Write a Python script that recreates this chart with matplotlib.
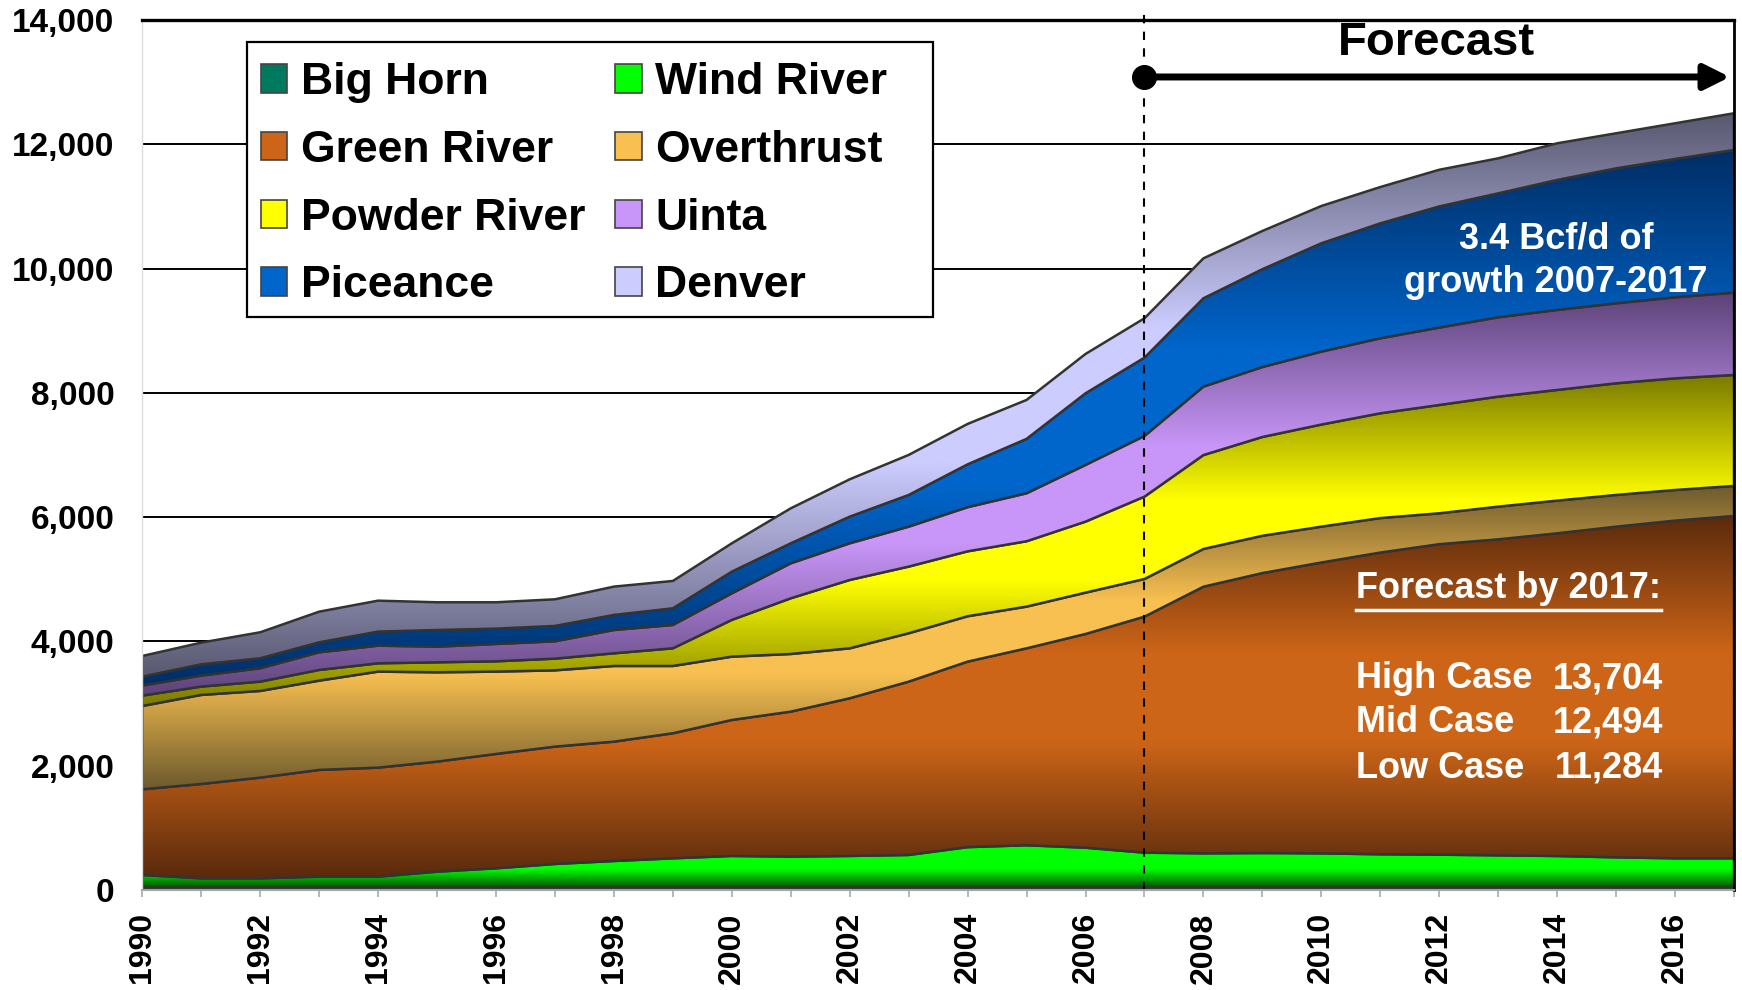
import numpy as np
import matplotlib
matplotlib.use("Agg")
import matplotlib.pyplot as plt
from matplotlib.patches import Polygon, Patch, Rectangle
from matplotlib.colors import LinearSegmentedColormap
from matplotlib.ticker import FuncFormatter, MultipleLocator

plt.rcParams['font.family'] = ['Liberation Sans', 'DejaVu Sans']

# ---------------- data ----------------
years = list(range(1990, 2018))
big_horn = [40] * 28
wind_river = [202, 148, 148, 175, 175, 255, 309, 379, 427, 470, 508, 497, 508, 524,
              650, 680, 641, 561, 550, 555, 550, 535, 529, 518, 507, 486, 470, 470]
green_river = [1378, 1518, 1620, 1717, 1754, 1771, 1840, 1888, 1920, 2012, 2188, 2333, 2537, 2789,
               2985, 3169, 3439, 3798, 4291, 4505, 4680, 4855, 4996, 5085, 5193, 5321, 5434, 5509]
overthrust = [1341, 1433, 1395, 1437, 1545, 1437, 1325, 1228, 1218, 1083, 1019, 928, 804, 778,
              730, 671, 665, 606, 607, 600, 577, 555, 497, 526, 526, 510, 493, 483]
powder_river = [167, 134, 150, 172, 134, 161, 166, 188, 204, 284, 591, 896, 1100, 1073,
                1045, 1052, 1143, 1325, 1511, 1590, 1643, 1686, 1743, 1770, 1781, 1797, 1797, 1786]
uinta = [161, 177, 215, 284, 284, 252, 279, 279, 375, 376, 428, 563, 590, 643,
         710, 772, 912, 976, 1101, 1125, 1173, 1207, 1245, 1277, 1287, 1287, 1304, 1325]
piceance = [144, 182, 161, 161, 226, 268, 247, 247, 242, 268, 349, 322, 429, 510,
            690, 876, 1153, 1261, 1422, 1575, 1744, 1850, 1950, 1995, 2092, 2172, 2226, 2296]
denver = [333, 349, 418, 493, 498, 446, 424, 429, 456, 440, 456, 563, 601, 644,
          650, 626, 633, 633, 643, 615, 600, 584, 590, 563, 590, 564, 574, 590]

series_names = ["Big Horn", "Wind River", "Green River", "Overthrust",
                "Powder River", "Uinta", "Piceance", "Denver"]
series_values = [big_horn, wind_river, green_river, overthrust,
                 powder_river, uinta, piceance, denver]

forecast_start = 2007
case_labels = ["High Case", "Mid Case", "Low Case"]
case_values = ["13,704", "12,494", "11,284"]

# ---------------- styles ----------------
base_cols = {"Big Horn": "#007A5E", "Wind River": "#00FF00", "Green River": "#CD6518",
             "Overthrust": "#F8C050", "Powder River": "#FFFF00", "Uinta": "#C896F8",
             "Piceance": "#0066CC", "Denver": "#CCCCFF"}
dark_cols = {"Big Horn": "#00503C", "Wind River": "#005000", "Green River": "#5A2A0C",
             "Overthrust": "#6E5A2E", "Powder River": "#7A7A00", "Uinta": "#5C4378",
             "Piceance": "#002E66", "Denver": "#585870"}

fig = plt.figure(figsize=(17.42, 9.9), dpi=100)
ax = fig.add_axes([142.3 / 1742, 100 / 990, (1734 - 142.3) / 1742, 870 / 990])

x = np.array(years, dtype=float)
cum = np.zeros(len(x))
edge = "#333333"
for i, (name, vals) in enumerate(zip(series_names, series_values)):
    v = np.array(vals, dtype=float)
    y0 = cum.copy()
    y1 = cum + v
    cum = y1
    verts = np.concatenate([np.column_stack([x, y1]), np.column_stack([x[::-1], y0[::-1]])])
    z = 2 + i
    poly = Polygon(verts, closed=True, facecolor='none', edgecolor=edge, lw=1.8, zorder=z + 0.5)
    ax.add_patch(poly)
    if name == "Wind River":
        stops = [(0, dark_cols[name]), (0.45, base_cols[name]), (1, base_cols[name])]
    elif name == "Big Horn":
        stops = [(0, base_cols[name]), (1, base_cols[name])]
    else:
        stops = [(0, dark_cols[name]), (0.38, base_cols[name]), (0.62, base_cols[name]), (1, dark_cols[name])]
    cmap = LinearSegmentedColormap.from_list("g%d" % i, stops)
    grad = np.linspace(0, 1, 256).reshape(-1, 1)
    im = ax.imshow(grad, extent=[x[0], x[-1], y0.min(), y1.max()], origin='lower',
                   aspect='auto', cmap=cmap, zorder=z, interpolation='bilinear')
    im.set_clip_path(poly)

ax.set_xlim(1990, 2017)
ax.set_ylim(0, 14000)

# grid
ax.yaxis.set_major_locator(MultipleLocator(2000))
for yv in range(2000, 14000, 2000):
    ax.axhline(yv, color='black', lw=1.4, zorder=1)

ax.yaxis.set_major_formatter(FuncFormatter(lambda v, p: "{:,}".format(int(v))))
ax.tick_params(axis='y', length=0, pad=20, labelsize=24)
for t in ax.get_yticklabels():
    t.set_fontweight('bold')

ax.set_xticks(years, minor=True)
ax.set_xticks(list(range(1990, 2017, 2)))
ax.set_xticklabels([str(yv) for yv in range(1990, 2017, 2)], rotation=90,
                   fontsize=23, fontweight='bold')
ax.tick_params(axis='x', which='both', direction='out', length=5, color='#AAAAAA', width=1.2)
ax.tick_params(axis='x', which='major', pad=11)

for s in ['top', 'right']:
    ax.spines[s].set_color('black')
ax.spines['top'].set_linewidth(2.4)
ax.spines['right'].set_linewidth(2)
ax.spines['left'].set_color('#DDDDDD')
ax.spines['left'].set_linewidth(1)
ax.spines['bottom'].set_color('#9AA8A8')
ax.spines['bottom'].set_linewidth(1.5)
for s in ax.spines.values():
    s.set_zorder(20)

# forecast marker
ax.plot([forecast_start, forecast_start], [0, 14130], ls=(0, (4, 4)), color='black', lw=1.5,
        zorder=15, clip_on=False)
arrow_y = 13083
ax.annotate('', xy=(2016.93, arrow_y), xytext=(forecast_start, arrow_y),
            arrowprops=dict(arrowstyle='-|>', lw=5, color='black', mutation_scale=38,
                            shrinkA=0, shrinkB=0), zorder=16)
ax.plot([forecast_start], [arrow_y], 'o', ms=17, color='black', zorder=17)
ax.text(2011.96, 13630, "Forecast", ha='center', va='center', fontsize=34,
        fontweight='bold', zorder=17)

# annotations
ax.text(2013.98, 10475, "3.4 Bcf/d of", ha='center', va='center', fontsize=26,
        fontweight='bold', color='white', zorder=18)
ax.text(2013.98, 9770, "growth 2007-2017", ha='center', va='center', fontsize=26,
        fontweight='bold', color='white', zorder=18)
t_fc = ax.text(2010.59, 4844, "Forecast by 2017:", ha='left', va='center', fontsize=26,
               fontweight='bold', color='white', zorder=18)
for lab, val, yv in zip(case_labels, case_values, [3396, 2688, 1963]):
    ax.text(2010.59, yv, lab, ha='left', va='center', fontsize=26, fontweight='bold',
            color='white', zorder=18)
    ax.text(2015.8, yv, val, ha='right', va='center', fontsize=26, fontweight='bold',
            color='white', zorder=18)

# legend (frame drawn separately)
ax.add_patch(Rectangle((0.0655, 0.659), 0.4968 - 0.0655, 0.9747 - 0.659,
                       transform=ax.transAxes, facecolor='white', edgecolor='black',
                       lw=1.6, zorder=29))
order = ["Big Horn", "Green River", "Powder River", "Piceance",
         "Wind River", "Overthrust", "Uinta", "Denver"]
handles = [Patch(facecolor=base_cols[n], edgecolor='#444444', lw=1.2, label=n) for n in order]
leg = ax.legend(handles=handles, ncol=2, loc='center', bbox_to_anchor=(0.2712, 0.8112),
                prop={'size': 32, 'weight': 'bold'}, frameon=False,
                handlelength=0.6, handleheight=0.6,
                handletextpad=0.3, columnspacing=0.68, labelspacing=0.6, borderpad=0,
                borderaxespad=0)
leg.set_zorder(30)

# underline for "Forecast by 2017:"
fig.canvas.draw()
bb = t_fc.get_window_extent().transformed(ax.transData.inverted())
ax.plot([bb.x0, bb.x1], [bb.y0 - 60, bb.y0 - 60], color='white', lw=2.5, zorder=18)

fig.savefig("out.png", dpi=100)
